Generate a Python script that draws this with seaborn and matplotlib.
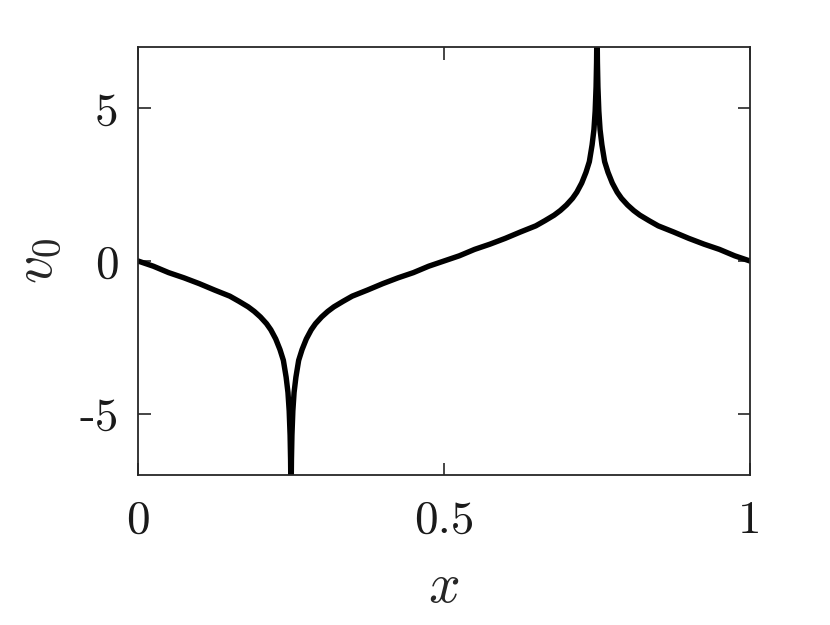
import numpy as np
import pandas as pd
import matplotlib
matplotlib.use("Agg")
import matplotlib.pyplot as plt
import seaborn as sns

# curve, x in [0, 1]
x_vals = [0.0, 0.025, 0.05, 0.075, 0.1, 0.125, 0.15, 0.165, 0.18, 0.19,
          0.2, 0.21, 0.217, 0.225, 0.232, 0.2375, 0.242, 0.245, 0.247,
          0.2485, 0.2493, 0.2498,
          0.2502, 0.2507, 0.2515, 0.253, 0.255, 0.258, 0.2625, 0.268, 0.275,
          0.283, 0.29, 0.3, 0.31, 0.32, 0.335, 0.35, 0.375, 0.4, 0.425,
          0.45, 0.475, 0.5,
          0.525, 0.55, 0.575, 0.6, 0.625, 0.65, 0.665, 0.68, 0.69,
          0.7, 0.71, 0.717, 0.725, 0.732, 0.7375, 0.742, 0.745, 0.747,
          0.7485, 0.7493, 0.7498,
          0.7502, 0.7507, 0.7515, 0.753, 0.755, 0.758, 0.7625, 0.768, 0.775,
          0.783, 0.79, 0.8, 0.81, 0.82, 0.835, 0.85, 0.875, 0.9, 0.925,
          0.95, 0.975, 1.0]
v0_vals = [0.0, -0.17, -0.38, -0.55, -0.74, -0.95, -1.15, -1.32, -1.50, -1.65,
           -1.83, -2.05, -2.25, -2.55, -2.9, -3.25, -3.8, -4.3, -4.9,
           -5.7, -6.5, -7.5,
           -7.5, -6.5, -5.7, -4.9, -4.3, -3.8, -3.25, -2.9, -2.55,
           -2.25, -2.05, -1.83, -1.65, -1.50, -1.32, -1.15, -0.95, -0.74, -0.55,
           -0.38, -0.17, 0.0,
           0.17, 0.38, 0.55, 0.74, 0.95, 1.15, 1.32, 1.50, 1.65,
           1.83, 2.05, 2.25, 2.55, 2.9, 3.25, 3.8, 4.3, 4.9,
           5.7, 6.5, 7.5,
           7.5, 6.5, 5.7, 4.9, 4.3, 3.8, 3.25, 2.9, 2.55,
           2.25, 2.05, 1.83, 1.65, 1.50, 1.32, 1.15, 0.95, 0.74, 0.55,
           0.38, 0.17, 0.0]

xticks = [0, 0.5, 1]
xticklabels = ["0", "0.5", "1"]
yticks = [-5, 0, 5]
yticklabels = ["-5", "0", "5"]

df = pd.DataFrame({"x": x_vals, "v0": v0_vals})

sns.set_theme(style="white")
plt.rcParams["mathtext.fontset"] = "cm"
plt.rcParams["font.family"] = ["cmr10", "DejaVu Serif"]
plt.rcParams["axes.formatter.use_mathtext"] = True

fig = plt.figure(figsize=(8.3, 6.25), dpi=100)
ax = fig.add_axes([0.1663, 0.24, 0.7373, 0.6848])

sns.lineplot(data=df, x="x", y="v0", sort=False, estimator=None,
             color="black", linewidth=3.9, solid_joinstyle="round", ax=ax)

ax.set_xlim(0, 1)
ax.set_ylim(-7, 7)
ax.set_xticks(xticks)
ax.set_xticklabels(xticklabels, fontsize=34, color="#1a1a1a")
ax.set_yticks(yticks)
ax.set_yticklabels(yticklabels, fontsize=34, color="#1a1a1a")
ax.tick_params(direction="in", length=9, width=1.2, color="#262626",
               top=True, right=True, bottom=True, left=True)
ax.tick_params(axis="x", pad=18)
ax.tick_params(axis="y", pad=14)
for s in ax.spines.values():
    s.set_color("#262626")
    s.set_linewidth(1.3)
    s.set_visible(True)

ax.set_xlabel("$x$", fontsize=40, labelpad=16)
ax.set_ylabel("$v_0$", fontsize=40, labelpad=12)

fig.savefig("out.png", dpi=100)
